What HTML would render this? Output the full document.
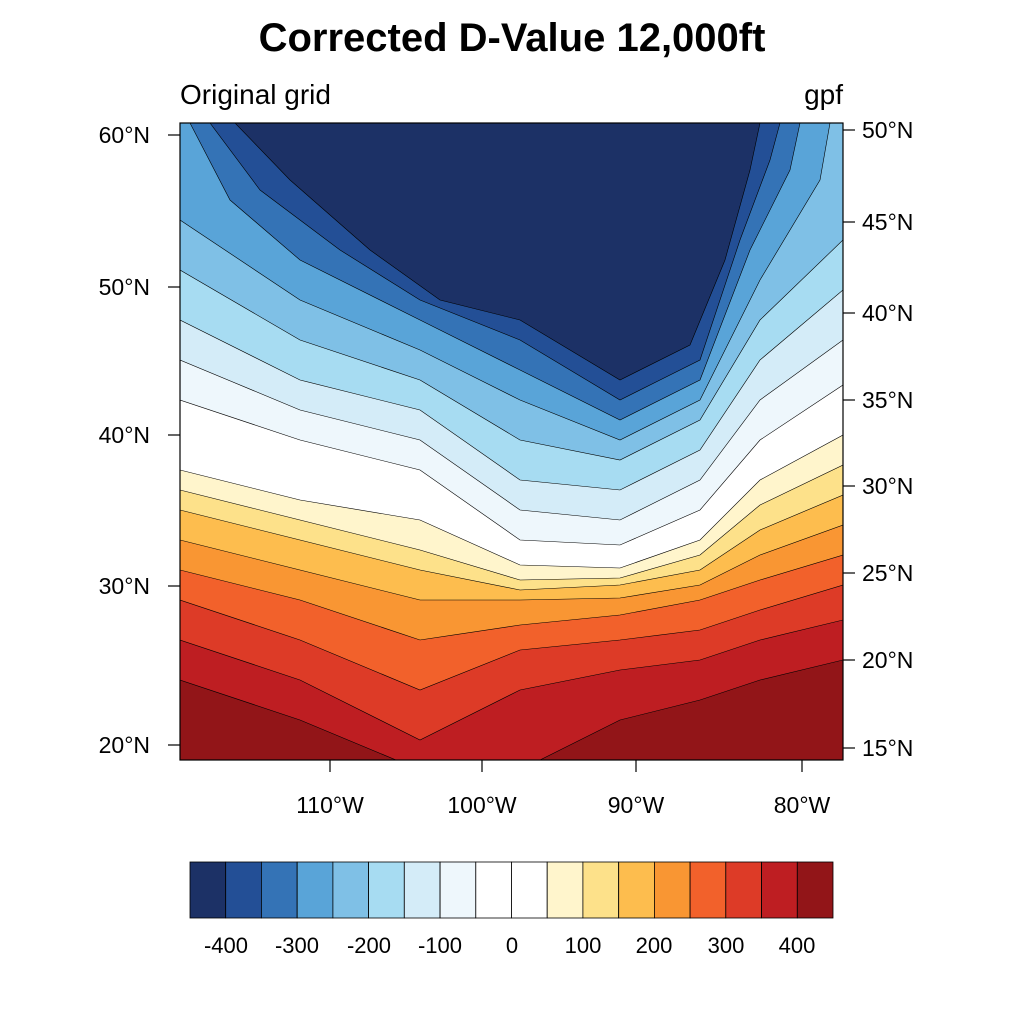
<!DOCTYPE html>
<html><head><meta charset="utf-8"><style>
body{margin:0;background:#fff;}
text{font-family:"Liberation Sans",sans-serif;}
</style></head><body>
<svg width="1024" height="1024" viewBox="0 0 1024 1024" xmlns="http://www.w3.org/2000/svg">
<rect width="1024" height="1024" fill="#fff"/>
<text x="512" y="51" font-size="40" font-weight="bold" text-anchor="middle">Corrected D-Value 12,000ft</text>
<text x="180" y="104" font-size="28">Original grid</text>
<text x="843" y="104" font-size="28" text-anchor="end">gpf</text>
<defs><clipPath id="c"><rect x="180" y="123" width="663" height="637"/></clipPath></defs>
<g clip-path="url(#c)" stroke="#000" stroke-width="0.6">
<rect x="180" y="123" width="663" height="637" fill="#921518"/>
<path fill="#be1e22" d="M180,123 L180,680 L300,720 L420,770 L520,770 L620,720 L700,700 L760,680 L843,660 L843,123Z"/>
<path fill="#dd3b27" d="M180,123 L180,640 L300,680 L420,740 L520,690 L620,670 L700,660 L760,640 L843,620 L843,123Z"/>
<path fill="#f2612b" d="M180,123 L180,600 L300,640 L420,690 L520,650 L620,640 L700,630 L760,610 L843,585 L843,123Z"/>
<path fill="#f99633" d="M180,123 L180,570 L300,600 L420,640 L520,625 L620,615 L700,600 L760,580 L843,555 L843,123Z"/>
<path fill="#fdbd4e" d="M180,123 L180,540 L300,570 L420,600 L520,600 L620,598 L700,585 L760,555 L843,525 L843,123Z"/>
<path fill="#fde18a" d="M180,123 L180,510 L300,540 L420,570 L520,590 L620,585 L700,570 L760,530 L843,495 L843,123Z"/>
<path fill="#fff5cc" d="M180,123 L180,490 L300,520 L420,550 L520,580 L620,578 L700,555 L760,505 L843,465 L843,123Z"/>
<path fill="#ffffff" d="M180,123 L180,470 L300,500 L420,520 L520,565 L620,568 L700,540 L760,480 L843,435 L843,123Z"/>
<path fill="#eef7fc" d="M180,123 L180,400 L300,440 L420,470 L520,540 L620,545 L700,510 L760,440 L843,385 L843,123Z"/>
<path fill="#d4ecf8" d="M180,123 L180,360 L300,410 L420,440 L520,510 L620,520 L700,480 L760,400 L843,340 L843,123Z"/>
<path fill="#a7dcf2" d="M180,123 L180,320 L300,380 L420,410 L520,480 L620,490 L700,450 L760,360 L843,290 L843,123Z"/>
<path fill="#7fc0e6" d="M180,123 L180,270 L300,340 L420,380 L520,440 L620,460 L700,420 L760,320 L843,240 L843,123Z"/>
<path fill="#59a4d8" d="M180,123 L180,220 L300,300 L420,350 L520,400 L620,440 L700,400 L760,280 L820,180 L830,123Z"/>
<path fill="#3473b6" d="M190,123 L230,200 L300,260 L420,320 L520,370 L620,420 L700,380 L750,250 L790,170 L800,123Z"/>
<path fill="#234f96" d="M210,123 L260,190 L340,250 L420,300 L520,340 L620,400 L700,360 L740,240 L770,160 L780,123Z"/>
<path fill="#1c3166" d="M235,123 L290,180 L370,250 L440,300 L520,320 L620,380 L690,345 L725,260 L750,170 L760,123Z"/>
</g>
<rect x="180" y="123" width="663" height="637" fill="none" stroke="#000" stroke-width="1.2"/>
<g stroke="#000" stroke-width="1.2">
<line x1="168" y1="135" x2="180" y2="135"/><line x1="168" y1="287" x2="180" y2="287"/><line x1="168" y1="435" x2="180" y2="435"/><line x1="168" y1="586" x2="180" y2="586"/><line x1="168" y1="745" x2="180" y2="745"/>
<line x1="843" y1="130" x2="855" y2="130"/><line x1="843" y1="222" x2="855" y2="222"/><line x1="843" y1="313" x2="855" y2="313"/><line x1="843" y1="400" x2="855" y2="400"/><line x1="843" y1="486" x2="855" y2="486"/><line x1="843" y1="573" x2="855" y2="573"/><line x1="843" y1="660" x2="855" y2="660"/><line x1="843" y1="748" x2="855" y2="748"/>
<line x1="330" y1="760" x2="330" y2="772"/><line x1="482" y1="760" x2="482" y2="772"/><line x1="636" y1="760" x2="636" y2="772"/><line x1="802" y1="760" x2="802" y2="772"/>
</g>
<g font-size="23" text-anchor="end">
<text x="150" y="143">60°N</text><text x="150" y="295">50°N</text><text x="150" y="443">40°N</text><text x="150" y="594">30°N</text><text x="150" y="753">20°N</text>
</g>
<g font-size="23">
<text x="862" y="138">50°N</text><text x="862" y="230">45°N</text><text x="862" y="321">40°N</text><text x="862" y="408">35°N</text><text x="862" y="494">30°N</text><text x="862" y="581">25°N</text><text x="862" y="668">20°N</text><text x="862" y="756">15°N</text>
</g>
<g font-size="23" text-anchor="middle">
<text x="330" y="813">110°W</text><text x="482" y="813">100°W</text><text x="636" y="813">90°W</text><text x="802" y="813">80°W</text>
</g>
<g stroke="#000" stroke-width="0.8">
<rect x="190.0" y="862" width="35.7" height="56" fill="#1c3166"/>
<rect x="225.7" y="862" width="35.7" height="56" fill="#234f96"/>
<rect x="261.4" y="862" width="35.7" height="56" fill="#3473b6"/>
<rect x="297.2" y="862" width="35.7" height="56" fill="#59a4d8"/>
<rect x="332.9" y="862" width="35.7" height="56" fill="#7fc0e6"/>
<rect x="368.6" y="862" width="35.7" height="56" fill="#a7dcf2"/>
<rect x="404.3" y="862" width="35.7" height="56" fill="#d4ecf8"/>
<rect x="440.1" y="862" width="35.7" height="56" fill="#eef7fc"/>
<rect x="475.8" y="862" width="35.7" height="56" fill="#ffffff"/>
<rect x="511.5" y="862" width="35.7" height="56" fill="#ffffff"/>
<rect x="547.2" y="862" width="35.7" height="56" fill="#fff5cc"/>
<rect x="582.9" y="862" width="35.7" height="56" fill="#fde18a"/>
<rect x="618.7" y="862" width="35.7" height="56" fill="#fdbd4e"/>
<rect x="654.4" y="862" width="35.7" height="56" fill="#f99633"/>
<rect x="690.1" y="862" width="35.7" height="56" fill="#f2612b"/>
<rect x="725.8" y="862" width="35.7" height="56" fill="#dd3b27"/>
<rect x="761.6" y="862" width="35.7" height="56" fill="#be1e22"/>
<rect x="797.3" y="862" width="35.7" height="56" fill="#921518"/>
</g>
<g font-size="22" text-anchor="middle">
<text x="226" y="953">-400</text><text x="297" y="953">-300</text><text x="369" y="953">-200</text><text x="440" y="953">-100</text><text x="512" y="953">0</text><text x="583" y="953">100</text><text x="654" y="953">200</text><text x="726" y="953">300</text><text x="797" y="953">400</text>
</g>
</svg>
</body></html>
